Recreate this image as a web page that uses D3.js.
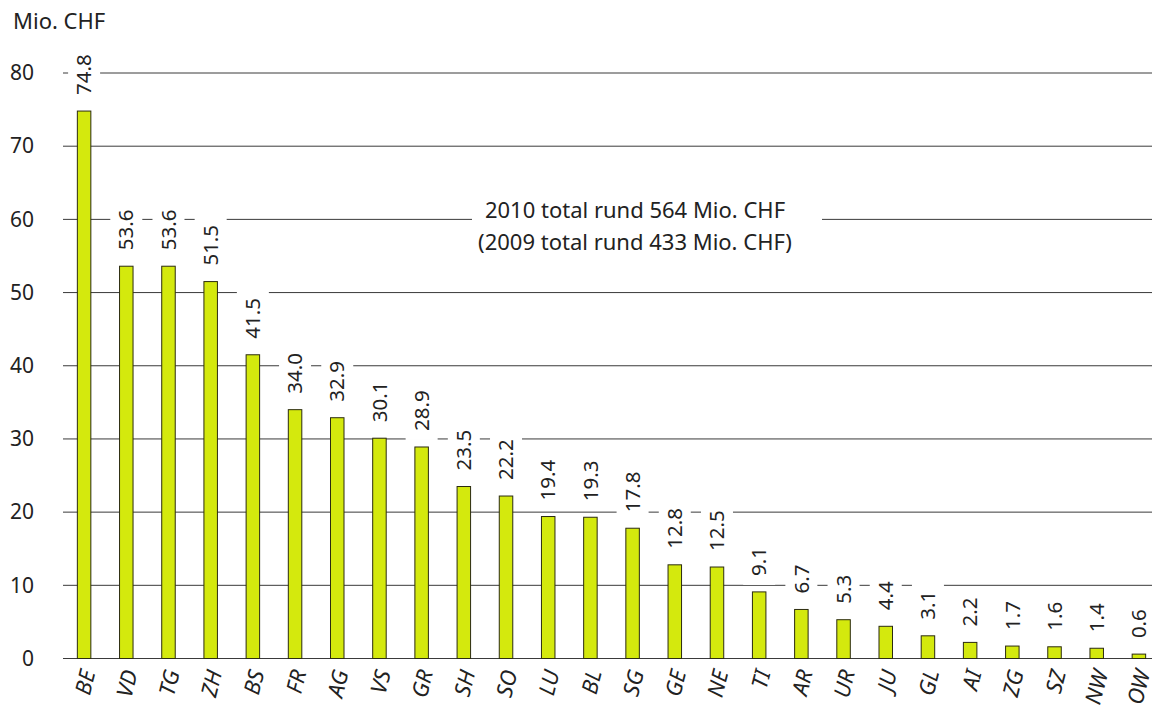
<!DOCTYPE html>
<html>
<head>
<meta charset="utf-8">
<script src="https://cdn.jsdelivr.net/npm/d3@7"></script>
<style>
  body { margin: 0; background: #fff; }
  text { font-family: "Noto Sans", "Open Sans", sans-serif; fill: #222; }
</style>
</head>
<body>
<svg id="chart" width="1156" height="713"></svg>
<script>
// values in Mio. CHF, 2010
let cantons = ["BE","VD","TG","ZH","BS","FR","AG","VS","GR","SH","SO","LU","BL","SG","GE","NE","TI","AR","UR","JU","GL","AI","ZG","SZ","NW","OW"];
let values = [74.8, 53.6, 53.6, 51.5, 41.5, 34.0, 32.9, 30.1, 28.9, 23.5, 22.2, 19.4, 19.3, 17.8, 12.8, 12.5, 9.1, 6.7, 5.3, 4.4, 3.1, 2.2, 1.7, 1.6, 1.4, 0.6];
let yTicks = [0, 10, 20, 30, 40, 50, 60, 70, 80];
let unitLabel = "Mio. CHF";
let noteLines = ["2010 total rund 564 Mio. CHF", "(2009 total rund 433 Mio. CHF)"];

function makeChart(id) {
    let chart = d3.select("#" + id);
    let data = cantons.map((c, i) => ({canton: c, value: values[i]}));

    let xScale = d3.scaleBand().domain(cantons).range([63, 1160]).paddingInner(0.68).paddingOuter(0.34);
    let yScale = d3.scaleLinear().domain([0, 80]).range([658.5, 73]);

    // gridlines
    chart.append("g").selectAll("line").data(yTicks).enter().append("line")
        .attr("x1", 63).attr("x2", 1152)
        .attr("y1", d => yScale(d)).attr("y2", d => yScale(d))
        .style("stroke", "#3a3a3a").style("stroke-width", 1);

    // y axis labels
    let yAxis = d3.axisLeft(yScale).tickValues(yTicks).tickSize(0).tickPadding(0);
    let ay = chart.append("g").attr("transform", "translate(34,0)").call(yAxis);
    ay.select(".domain").remove();
    ay.selectAll("text").style("font-size", "21px").style("font-family", "Noto Sans").attr("fill", "#222");

    chart.append("text").attr("x", 13).attr("y", 29).style("font-size", "22px").text(unitLabel);

    // annotation with white box
    let note = chart.append("g");
    note.append("rect").attr("x", 472).attr("y", 193).attr("width", 350).attr("height", 66).style("fill", "white");
    note.selectAll("text").data(noteLines).enter().append("text")
        .attr("x", 635).attr("y", (d, i) => 218 + i * 32)
        .attr("text-anchor", "middle").style("font-size", "22px").text(d => d);

    let bw = xScale.bandwidth();
    let cx = d => xScale(d.canton) + bw / 2;

    // value labels with white boxes (they cut the gridlines)
    let labels = chart.selectAll(".lab").data(data).enter().append("g").attr("class", "lab")
        .attr("transform", d => `translate(${cx(d)},${yScale(d.value) - 16})`);
    let box = labels.append("rect").style("fill", "white");
    let txt = labels.append("text")
        .attr("transform", "rotate(-90)")
        .attr("dy", "0.35em")
        .style("font-size", "20.5px")
        .text(d => d.value.toFixed(1));
    txt.each(function (d) { d.len = this.getComputedTextLength(); });
    box.attr("x", -16).attr("width", 32)
        .attr("y", d => -d.len - 9)
        .attr("height", d => d.len + 18);

    // bars
    chart.selectAll(".bar").data(data).enter().append("rect").attr("class", "bar")
        .attr("x", d => xScale(d.canton))
        .attr("width", bw)
        .attr("y", d => yScale(d.value))
        .attr("height", d => yScale(0) - yScale(d.value))
        .style("fill", "#d4e90d")
        .style("stroke", "#2b2b10").style("stroke-width", 1);

    // x axis labels
    let xAxis = d3.axisBottom(xScale).tickSize(0).tickPadding(0);
    let ax = chart.append("g").attr("transform", `translate(0,${yScale(0)})`).call(xAxis);
    ax.select(".domain").remove();
    ax.selectAll("text")
        .attr("transform", "translate(4,12) rotate(-76)")
        .attr("text-anchor", "end")
        .attr("dy", "0.35em")
        .attr("y", 0)
        .style("font-size", "22px")
        .style("font-style", "italic")
        .style("font-family", "Noto Sans")
        .attr("fill", "#222");
}

makeChart("chart");
</script>
</body>
</html>
